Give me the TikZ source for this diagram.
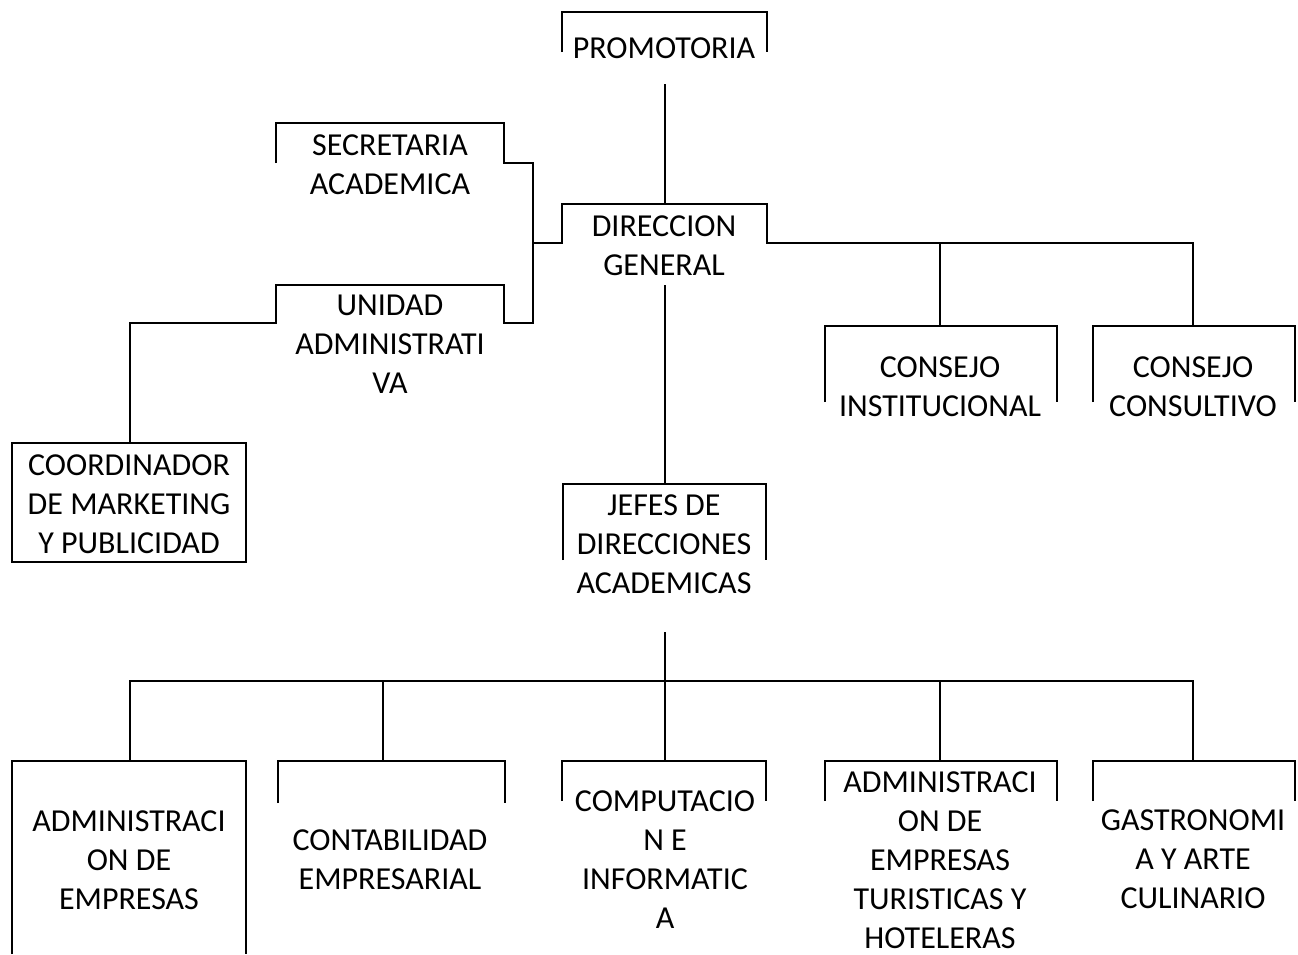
\documentclass[tikz,border=0pt]{standalone}
\usepackage{fontspec}
\setmainfont{Carlito}

\tikzset{
  linea/.style={line width=1.9pt},
  unidad/.style={align=center, inner sep=0pt, font=\fontsize{24}{29.3}\selectfont},
}
% open box: left x, right x, top y, lower end of the sides
\newcommand{\corchete}[4]{\draw[linea] (#1,#4) |- (#2,#3) -- (#2,#4);}

\begin{document}
\begin{tikzpicture}[x=0.75pt, y=-0.75pt]
                \useasboundingbox (0,0) rectangle (1298,954);
                % boxes
                \corchete{562}{767}{12}{52}
                \corchete{825}{1057}{326}{402}
                \corchete{1093}{1295}{326}{402}
                \corchete{563}{766}{484}{560}
                \draw[linea] (12,443) rectangle (246,562);
                \corchete{12}{246}{761}{954}
                \corchete{278}{505}{761}{803}
                \corchete{562}{766}{761}{801}
                \corchete{825}{1057}{761}{801}
                \corchete{1093}{1295}{761}{801}
                % texts
                \node[unidad] (promo) at (664,48) {PROMOTORIA};
                \node[unidad] (secr) at (390,164.5) {SECRETARIA\\ACADEMICA};
                \node[unidad] (dir) at (664,246) {DIRECCION\\GENERAL};
                \node[unidad] (unid) at (390,344) {UNIDAD\\ADMINISTRATI\\VA};
                \node[unidad] (inst) at (940,386.5) {CONSEJO\\INSTITUCIONAL};
                \node[unidad] (cons) at (1193,386.5) {CONSEJO\\CONSULTIVO};
                \node[unidad] (coord) at (129,504) {COORDINADOR\\DE MARKETING\\Y PUBLICIDAD};
                \node[unidad] (jefes) at (664,544) {JEFES DE\\DIRECCIONES\\ACADEMICAS};
                \node[unidad] (adm) at (129,860) {ADMINISTRACI\\ON DE\\EMPRESAS};
                \node[unidad] (conta) at (390,860) {CONTABILIDAD\\EMPRESARIAL};
                \node[unidad] (comp) at (665,859.5) {COMPUTACIO\\N E\\INFORMATIC\\A};
                \node[unidad] (turi) at (940,860) {ADMINISTRACI\\ON DE\\EMPRESAS\\TURISTICAS Y\\HOTELERAS};
                \node[unidad] (gastro) at (1193,859) {GASTRONOMI\\A Y ARTE\\CULINARIO};
                % connection points
                \coordinate (promo-b) at (665,84);
                \coordinate (dir-t) at (665,204);
                \coordinate (dir-b) at (665,285);
                \coordinate (jefes-t) at (665,484);
                \coordinate (jefes-b) at (665,632);
                \coordinate (inst-t) at (940,326);
                \coordinate (cons-t) at (1193,326);
                \coordinate (coord-t) at (130,443);
                \coordinate (rama) at (665,681);
                % connectors
                \draw[linea] (promo-b) -- (dir-t);
                \draw[linea] (dir-b) -- (jefes-t);
                \draw[linea] (533,243) -- (562,243) |- (767,204) -- (767,243) -| (cons-t);
                \draw[linea] (940,243) -- (inst-t);
                \draw[linea] (276,163) |- (504,123) |- (533,163) -- (533,323) -- (504,323)
                    |- (276,285) -- (276,323) -| (coord-t);
                \draw[linea] (jefes-b) -- (rama);
                \draw[linea] (130,761) |- (1193,681) -- (1193,761);
                \foreach \x in {383,665,940}
                    \draw[linea] (\x,681) -- (\x,761);
            \end{tikzpicture}
\end{document}
